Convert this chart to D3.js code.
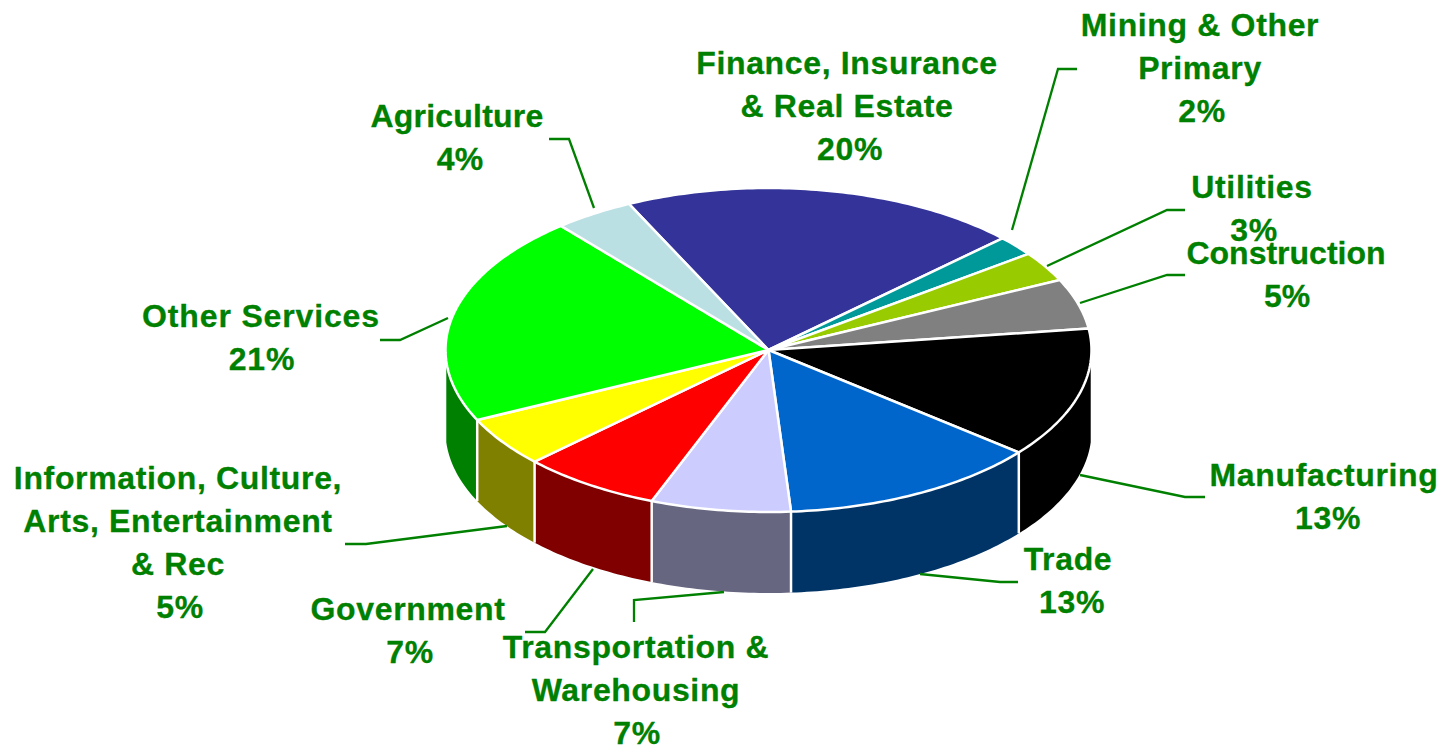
<!DOCTYPE html>
<html><head><meta charset="utf-8">
<script src="https://cdn.jsdelivr.net/npm/d3@7/dist/d3.min.js"></script>
<style>html,body{margin:0;background:#fff}svg{display:block}</style></head>
<body><svg id="c" width="1443" height="747"></svg>
<script>
const categories=["Finance, Insurance & Real Estate","Mining & Other Primary","Utilities","Construction","Manufacturing","Trade","Transportation & Warehousing","Government","Information, Culture, Arts, Entertainment & Rec","Other Services","Agriculture"];
const shares=[20,2,3,5,13,13,7,7,5,21,4];
const topColors=["#333399","#009999","#99CC00","#808080","#000000","#0066CC","#CCCCFF","#FF0000","#FFFF00","#00FF00","#BBE0E3"];
const wallColors=["#1A1A4D","#004D4D","#4D6600","#404040","#000000","#003366","#666680","#800000","#808000","#008000","#5E7072"];
const labelLines=[["Finance, Insurance","& Real Estate"],["Mining & Other","Primary"],["Utilities"],["Construction"],["Manufacturing"],["Trade"],["Transportation &","Warehousing"],["Government"],["Information, Culture,","Arts, Entertainment","& Rec"],["Other Services"],["Agriculture"]];
// annotation layout: label centre x, first line centre y, offset of the percent line, letter spacing
const labelX=[847,1200,1252,1286,1324,1068,636,408,178,261,457];
const labelY=[63,25,187,253,475,559,647,609,478,316,116];
const percentDx=[3,2,2,1,4,4,1,2,2,1,3];
const tracking=[0.65,0.65,0.65,0,0.65,0.65,0.65,0.65,0.65,0.85,0.2];
const leaders=[[],[[1077,69],[1058,69],[1012,230]],[[1185,210],[1167,210],[1047,266]],[[1185,275],[1167,275],[1080,303]],[[1205,497],[1185,497],[1080,475]],[[1018,582],[1000,582],[920,574]],[[634,622],[634,600],[724,592]],[[525,632],[545,632],[593,569]],[[345,544],[366,544],[507,526]],[[380,340],[400,340],[448,318]],[[549,139],[569,139],[594,208]]];

const cx=768.5,cy=350,rx=323,ry=162,depth=81,lh=43;
const rad=d3.scaleLinear().domain([0,360]).range([0,2*Math.PI]);
const start=rad(-25.6);
const pie=d3.pie().sort(null).startAngle(start).endAngle(start+2*Math.PI);
const arcs=pie(shares);
const px=t=>cx+rx*Math.sin(t), py=t=>cy-ry*Math.cos(t);
const line=d3.line().x(d=>d[0]).y(d=>d[1]);
const samples=(a,b)=>{const n=Math.max(2,Math.ceil(Math.abs(b-a)*60));return d3.range(n+1).map(i=>a+(b-a)*i/n);};
const svg=d3.select("#c");

// visible side walls: front part only
const wallMin=rad(94),wallMax=rad(266);
const walls=arcs.map((a,i)=>({a:Math.max(a.startAngle,wallMin),b:Math.min(a.endAngle,wallMax),i})).filter(d=>d.b>d.a);
svg.append("g").selectAll("path").data(walls).join("path")
 .attr("d",d=>{const s=samples(d.a,d.b);
   const top=s.map(t=>[px(t),py(t)]);
   const bot=s.slice().reverse().map(t=>[px(t),py(t)+depth]);
   return line(top.concat(bot))+"Z";})
 .attr("fill",d=>wallColors[d.i]);
// white seams between walls
svg.append("g").selectAll("line").data(walls.slice(1)).join("line")
 .attr("x1",d=>px(d.a)).attr("x2",d=>px(d.a)).attr("y1",d=>py(d.a)).attr("y2",d=>py(d.a)+depth)
 .attr("stroke","#fff").attr("stroke-width",2.5);

svg.append("g").selectAll("path").data(arcs).join("path")
 .attr("d",(d)=>{const pts=[[cx,cy]].concat(samples(d.startAngle,d.endAngle).map(t=>[px(t),py(t)]));return line(pts)+"Z";})
 .attr("fill",(d,i)=>topColors[i]).attr("stroke","#fff").attr("stroke-width",2.5).attr("stroke-linejoin","round");

svg.append("g").selectAll("path").data(leaders.filter(l=>l.length)).join("path")
 .attr("d",line).attr("fill","none").attr("stroke","#008000").attr("stroke-width",2.3);

const g=svg.append("g").attr("font-family","'Liberation Sans',Arial,sans-serif").attr("font-weight","bold").attr("font-size",32).attr("fill","#008000").attr("stroke","#008000").attr("stroke-width",0.3).attr("text-anchor","middle");
categories.forEach((c,i)=>{
  labelLines[i].forEach((t,j)=>g.append("text").attr("x",labelX[i]).attr("y",labelY[i]+j*lh+11).attr("letter-spacing",tracking[i]).text(t));
  g.append("text").attr("x",labelX[i]+percentDx[i]).attr("y",labelY[i]+labelLines[i].length*lh+11).attr("letter-spacing",tracking[i]).text(shares[i]+"%");
});
</script></body></html>
